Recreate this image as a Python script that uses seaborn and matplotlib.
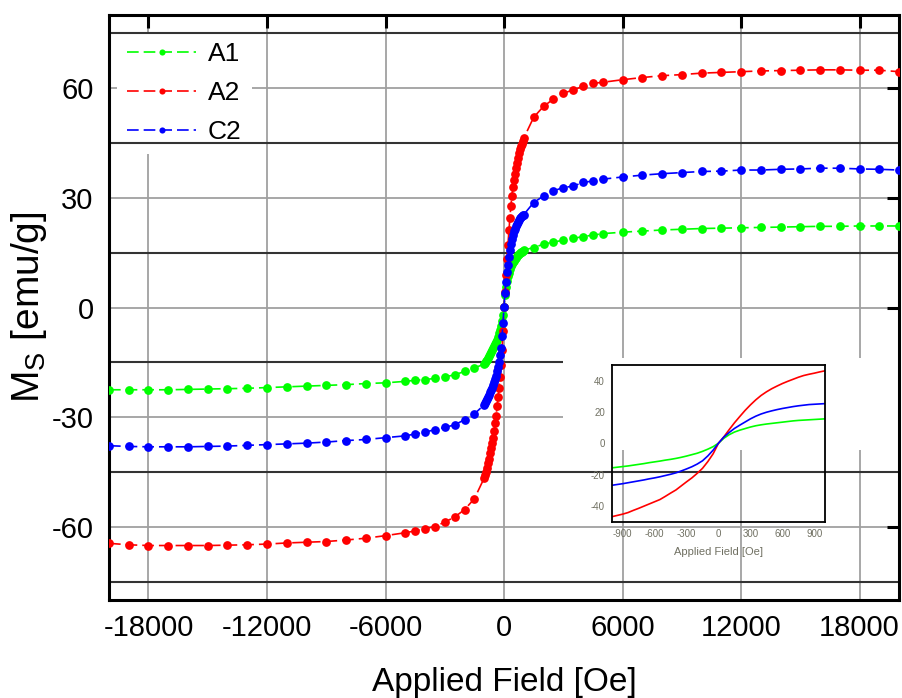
import matplotlib
matplotlib.use("Agg")
import matplotlib.pyplot as plt
import seaborn as sns
import pandas as pd
from matplotlib.patches import Rectangle

# ---------------- data ----------------
field_oe = [
    -20000, -19000, -18000, -17000, -16000, -15000, -14000, -13000, -12000, -11000,
    -10000, -9000, -8000, -7000, -6000,
    -5000, -4500, -4000, -3500, -3000, -2500, -2000, -1500,
    -1000, -950, -900, -850, -800, -750, -700, -650, -600, -550,
    -500, -450, -400, -350, -300, -250, -200, -150, -100, -50,
    0,
    50, 100, 150, 200, 250, 300, 350, 400, 450, 500,
    550, 600, 650, 700, 750, 800, 850, 900, 950, 1000,
    1500, 2000, 2500, 3000, 3500, 4000, 4500, 5000,
    6000, 7000, 8000, 9000, 10000, 11000, 12000, 13000, 14000, 15000,
    16000, 17000, 18000, 19000, 20000,
]

ms_a1 = [
    -22.5, -22.5, -22.5, -22.5, -22.4, -22.3, -22.2, -22.1, -21.9, -21.7,
    -21.5, -21.3, -21.1, -20.8, -20.6,
    -20.2, -19.9, -19.7, -19.4, -19.0, -18.4, -17.5, -16.5,
    -15.5, -15.1, -14.7, -14.3, -13.8, -13.3, -12.8, -12.2, -11.7, -11.2,
    -10.6, -10.1, -9.5, -8.8, -8.0, -7.1, -6.2, -5.0, -3.6, -2.0,
    0.2,
    3.3, 5.6, 7.3, 8.5, 9.5, 10.5, 11.3, 11.9, 12.4, 12.8,
    13.2, 13.6, 14.0, 14.4, 14.7, 14.9, 15.1, 15.3, 15.5, 15.7,
    16.4, 17.3, 17.9, 18.4, 18.9, 19.4, 19.8, 20.2,
    20.6, 20.9, 21.2, 21.4, 21.6, 21.7, 21.8, 21.9, 22.0, 22.1,
    22.2, 22.2, 22.3, 22.3, 22.3,
]

ms_a2 = [
    -64.5, -64.9, -65.1, -65.1, -65.1, -65.1, -65.0, -64.9, -64.7, -64.4,
    -64.2, -64.0, -63.6, -63.1, -62.4,
    -61.6, -61.1, -60.5, -59.9, -58.7, -57.3, -55.3, -52.3,
    -46.6, -45.8, -45.0, -44.0, -42.6, -41.3, -39.9, -38.5, -37.1, -35.7,
    -33.7, -31.6, -29.6, -27.0, -24.4, -21.9, -19.0, -15.8, -11.5, -6.5,
    0.2,
    4.2, 8.8, 13.2, 17.2, 21.1, 24.6, 27.8, 30.6, 32.9, 34.9,
    36.6, 38.2, 39.6, 40.9, 42.2, 43.3, 44.1, 44.8, 45.6, 46.3,
    52.0, 55.0, 57.0, 58.6, 59.5, 60.5, 61.3, 61.6,
    62.3, 62.9, 63.4, 63.7, 64.1, 64.3, 64.5, 64.7, 64.8, 64.9,
    65.0, 65.0, 64.9, 64.9, 64.5,
]

ms_c2 = [
    -37.8, -38.0, -38.1, -38.1, -38.1, -38.0, -37.9, -37.7, -37.5, -37.3,
    -37.1, -36.8, -36.4, -36.1, -35.6,
    -35.1, -34.6, -34.1, -33.4, -32.8, -32.1, -30.7, -29.1,
    -26.6, -26.1, -25.6, -25.0, -24.4, -23.8, -23.2, -22.5, -21.9, -21.2,
    -20.4, -19.6, -18.7, -17.5, -16.2, -14.8, -13.1, -11.0, -7.9, -4.2,
    0.2,
    4.1, 7.0, 9.6, 11.7, 13.7, 15.7, 17.4, 18.8, 19.9, 20.8,
    21.6, 22.3, 22.9, 23.5, 24.0, 24.4, 24.8, 25.0, 25.2, 25.4,
    28.7, 30.5, 31.9, 32.8, 33.2, 34.2, 34.6, 35.1,
    35.7, 36.2, 36.6, 36.9, 37.2, 37.3, 37.6, 37.6, 37.8, 37.9,
    38.1, 38.1, 37.9, 37.8, 37.6,
]

samples = ["A1", "A2", "C2"]
sample_colors = {"A1": "#00ff00", "A2": "#ff0000", "C2": "#0000ff"}

x_ticks = [-18000, -12000, -6000, 0, 6000, 12000, 18000]
y_ticks = [-60, -30, 0, 30, 60]
dark_lines = [-75, -45, -15, 15, 45, 75]
inset_x_ticks = [-900, -600, -300, 0, 300, 600, 900]
inset_y_ticks = [-40, -20, 0, 20, 40]

# ---------------- build table ----------------
rows = []
for name, vals in zip(samples, [ms_a1, ms_a2, ms_c2]):
    for h, m in zip(field_oe, vals):
        rows.append({"H": h, "M": m, "sample": name})
df = pd.DataFrame(rows)

# ---------------- style ----------------
sns.set_theme(style="white")
plt.rcParams["font.family"] = ["Liberation Sans", "DejaVu Sans"]
plt.rcParams["axes.unicode_minus"] = False
plt.rcParams["mathtext.fontset"] = "custom"
plt.rcParams["mathtext.rm"] = "Liberation Sans"
plt.rcParams["text.color"] = "black"
plt.rcParams["axes.labelcolor"] = "black"
plt.rcParams["xtick.color"] = "black"
plt.rcParams["ytick.color"] = "black"

fig = plt.figure(figsize=(9.03, 6.98), dpi=100)
ax = fig.add_axes([0.1207, 0.1404, 0.8749, 0.8381])

for name in samples:
    sub = df[df["sample"] == name]
    sns.lineplot(data=sub, x="H", y="M", ax=ax, color=sample_colors[name],
                 marker="o", markersize=6.3, markeredgewidth=0,
                 linewidth=1.2, linestyle=(0, (7, 3)), label=name,
                 sort=False, estimator=None, zorder=3)

ax.set_xlim(-20000, 20000)
ax.set_ylim(-80, 80)
ax.set_xticks(x_ticks)
ax.set_yticks(y_ticks)
ax.set_xticklabels([str(t) for t in x_ticks])
ax.set_yticklabels([str(t) for t in y_ticks])
ax.grid(True, color="#a0a0a0", linewidth=1.3)
ax.set_axisbelow(True)
for yv in dark_lines:
    ax.axhline(yv, color="#333333", linewidth=1.5, zorder=1.5)

# white patch (as in the reference, behind the inset top)
ax.add_patch(Rectangle((3000, -38.9), 17000, 25.2, facecolor="white",
                       edgecolor="none", zorder=1.8))

ax.tick_params(direction="in", length=9, width=2.2, top=True, right=True,
               labelsize=21, colors="black")
ax.tick_params(axis="x", pad=10)
ax.tick_params(axis="y", pad=11)
for sp in ax.spines.values():
    sp.set_color("black")
    sp.set_linewidth(2.2)

ax.set_xlabel("Applied Field [Oe]", fontsize=24, labelpad=18, color="black")
ax.set_ylabel(r"M$_\mathrm{S}$ [emu/g]", fontsize=28, labelpad=2, color="black")

leg = ax.legend(loc="upper left", bbox_to_anchor=(0.0, 0.985), fontsize=19,
                handlelength=2.6, handletextpad=0.45, labelspacing=0.56,
                markerscale=0.7, frameon=True, facecolor="white",
                edgecolor="none", framealpha=1.0, borderaxespad=0.3,
                borderpad=0.4)
leg.set_zorder(1.2)

# ---------------- inset ----------------
axin = fig.add_axes([612 / 903, 1 - 522 / 698, 213 / 903, 157 / 698])
axin.set_facecolor("none")
near = df[(df["H"] >= -1000) & (df["H"] <= 1000)]
for name in samples:
    sub = near[near["sample"] == name]
    sns.lineplot(data=sub, x="H", y="M", ax=axin, color=sample_colors[name],
                 linewidth=1.2, sort=False, estimator=None, legend=False)
axin.set_xlim(-1000, 1000)
axin.set_ylim(-50, 50)
axin.set_xticks(inset_x_ticks)
axin.set_yticks(inset_y_ticks)
axin.set_xticklabels([str(t) for t in inset_x_ticks])
axin.set_yticklabels([str(t) for t in inset_y_ticks])
lab_col = "#707062"
axin.tick_params(direction="in", length=3, width=0.8, labelsize=7,
                 labelcolor=lab_col, color="black", pad=5)
axin.set_xlabel("Applied Field [Oe]", fontsize=8, color=lab_col, labelpad=6)
axin.set_ylabel("")
for sp in axin.spines.values():
    sp.set_color("black")
    sp.set_linewidth(1.3)

fig.savefig("out.png", dpi=100)
